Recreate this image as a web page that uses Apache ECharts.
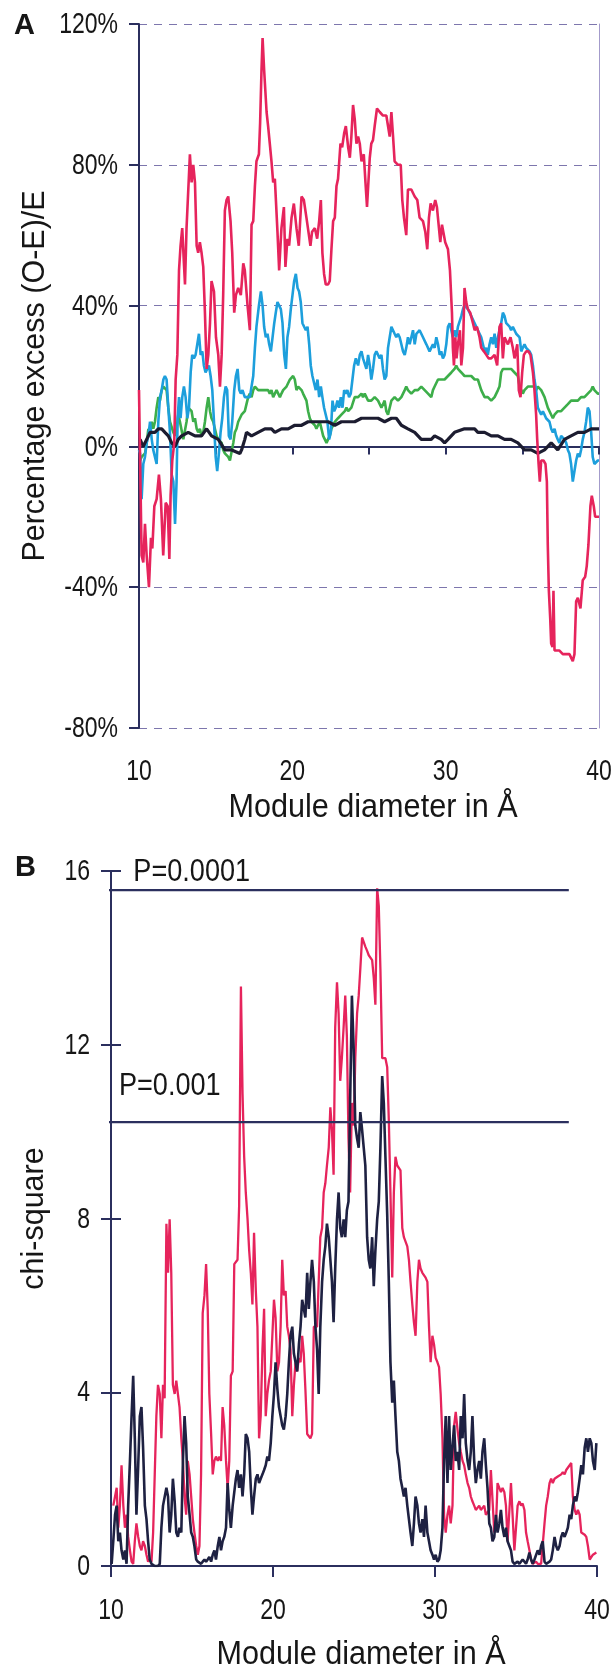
<!DOCTYPE html>
<html>
<head>
<meta charset="utf-8">
<script src="https://cdn.jsdelivr.net/npm/echarts@6/dist/echarts.min.js"></script>
<style>
html,body{margin:0;padding:0;background:#fff;}
#c{width:613px;height:1669px;}
</style>
</head>
<body>
<div id="c"></div>
<script>
// ---------- Panel A : percentage excess (O-E)/E, values in % ----------
const xTicksA = [10, 20, 30, 40];
const yTicksA = [-80, -40, 0, 40, 80, 120];
const redA = [[10.00,16],[10.17,-31],[10.28,-33],[10.39,-22],[10.50,-31],[10.65,-40],[10.78,-26],[10.87,-29],[11.00,-17],[11.15,-15],[11.30,-8],[11.43,-15],[11.58,-31],[11.74,-16],[11.87,-17],[11.98,-32],[12.06,-14],[12.17,-4],[12.30,1],[12.39,19],[12.50,26],[12.61,50],[12.71,57],[12.82,62],[12.93,52],[13.00,46],[13.10,62],[13.21,62],[13.32,83],[13.43,75],[13.54,80],[13.65,75],[13.76,57],[13.86,55],[13.97,58],[14.08,55],[14.19,51],[14.30,38],[14.41,22],[14.52,26],[14.63,35],[14.73,47],[14.89,44],[15.02,31],[15.17,26],[15.28,17],[15.39,26],[15.49,43],[15.60,67],[15.71,70],[15.82,71],[15.97,64],[16.08,55],[16.21,38],[16.32,43],[16.47,45],[16.64,43],[16.80,52],[16.90,50],[17.08,40],[17.23,33],[17.34,63],[17.45,64],[17.56,74],[17.66,81],[17.82,83],[17.90,92],[17.99,107],[18.06,116],[18.16,107],[18.32,95],[18.42,91],[18.53,86],[18.64,81],[18.75,75],[18.86,76],[19.03,61],[19.14,50],[19.29,62],[19.45,68],[19.55,51],[19.68,59],[19.79,57],[19.95,65],[20.10,69],[20.27,62],[20.42,57],[20.60,71],[20.75,70],[20.92,65],[21.03,65],[21.18,57],[21.29,61],[21.47,62],[21.62,59],[21.75,64],[21.86,70],[21.96,55],[22.07,49],[22.18,46],[22.33,46],[22.44,47],[22.55,56],[22.66,64],[22.77,65],[22.88,74],[22.98,76],[23.14,86],[23.25,85],[23.38,89],[23.49,91],[23.64,85],[23.75,82],[23.85,88],[23.96,97],[24.07,93],[24.18,86],[24.29,88],[24.40,86],[24.51,81],[24.66,83],[24.77,75],[24.87,68],[25.05,82],[25.15,86],[25.26,87],[25.37,91],[25.52,96],[25.70,95],[25.91,94],[26.13,94],[26.24,91],[26.35,88],[26.46,95],[26.57,88],[26.67,81],[26.89,80],[27.07,80],[27.17,70],[27.28,65],[27.43,60],[27.54,73],[27.76,73],[27.98,71],[28.15,70],[28.30,65],[28.52,64],[28.67,61],[28.80,56],[28.91,65],[29.02,69],[29.17,67],[29.32,70],[29.43,68],[29.54,63],[29.65,58],[29.76,63],[29.87,63],[29.97,58],[30.15,56],[30.28,50],[30.41,38],[30.47,28],[30.54,23],[30.63,31],[30.71,25],[30.80,29],[30.93,33],[31.02,23],[31.13,28],[31.23,45],[31.34,41],[31.45,39],[31.60,38],[31.78,35],[31.89,33],[32.04,34],[32.21,31],[32.32,28],[32.49,27],[32.65,26],[32.80,25],[32.97,25],[33.19,26],[33.36,23],[33.51,34],[33.62,35],[33.73,25],[33.84,31],[33.95,31],[34.06,29],[34.23,31],[34.38,28],[34.49,25],[34.67,29],[34.77,16],[34.88,14],[34.99,21],[35.10,26],[35.25,27],[35.40,27],[35.53,26],[35.69,21],[35.79,16],[35.90,9],[35.97,2],[36.06,-5],[36.14,-10],[36.23,-4],[36.38,-4],[36.51,-5],[36.60,-10],[36.66,-28],[36.73,-41],[36.82,-49],[36.88,-56],[36.97,-57],[37.03,-41],[37.10,-58],[37.21,-58],[37.42,-58],[37.64,-59],[37.86,-59],[38.07,-59],[38.29,-61],[38.40,-59],[38.51,-44],[38.62,-43],[38.79,-46],[38.94,-38],[39.10,-37],[39.20,-34],[39.31,-28],[39.44,-17],[39.53,-14],[39.66,-17],[39.75,-20],[39.92,-20],[40,-20]];
const blueA = [[10.00,-1],[10.07,-2],[10.17,-15],[10.28,-5],[10.39,-3],[10.50,1],[10.61,3],[10.72,7],[10.83,2],[10.93,-1],[11.04,-3],[11.15,-5],[11.26,7],[11.37,14],[11.48,16],[11.59,19],[11.69,20],[11.80,19],[11.91,11],[12.02,4],[12.13,-8],[12.24,-10],[12.35,-22],[12.45,-10],[12.52,8],[12.61,14],[12.71,8],[12.82,14],[12.93,17],[13.04,14],[13.15,8],[13.26,11],[13.37,21],[13.47,26],[13.58,25],[13.69,26],[13.80,26],[13.91,32],[14.02,26],[14.13,27],[14.23,23],[14.34,21],[14.45,22],[14.56,23],[14.67,20],[14.78,16],[14.89,7],[15.00,-3],[15.10,-7],[15.21,-2],[15.32,4],[15.43,8],[15.54,14],[15.65,17],[15.75,16],[15.86,3],[15.97,2],[16.08,7],[16.21,16],[16.32,20],[16.43,22],[16.54,16],[16.64,15],[16.75,16],[16.90,14],[17.08,14],[17.23,14],[17.34,17],[17.45,20],[17.56,28],[17.66,34],[17.82,40],[17.95,44],[18.06,40],[18.16,34],[18.27,31],[18.38,32],[18.49,29],[18.60,27],[18.71,31],[18.82,35],[18.92,38],[19.03,41],[19.14,41],[19.25,39],[19.36,35],[19.47,26],[19.58,22],[19.68,31],[19.79,34],[19.90,39],[20.01,43],[20.12,47],[20.23,49],[20.34,45],[20.44,44],[20.55,41],[20.66,35],[20.77,35],[20.88,33],[20.99,34],[21.10,29],[21.20,23],[21.31,20],[21.42,20],[21.53,16],[21.64,19],[21.75,14],[21.86,17],[21.96,14],[22.07,11],[22.18,9],[22.29,7],[22.40,2],[22.51,4],[22.62,13],[22.73,10],[22.83,11],[22.94,13],[23.05,11],[23.16,14],[23.27,11],[23.38,16],[23.49,15],[23.59,16],[23.70,14],[23.81,15],[23.92,19],[24.03,23],[24.14,25],[24.29,23],[24.40,26],[24.51,27],[24.61,25],[24.72,25],[24.83,22],[24.94,26],[25.05,23],[25.15,19],[25.26,22],[25.37,26],[25.48,27],[25.59,26],[25.70,25],[25.81,26],[25.91,22],[26.02,19],[26.13,20],[26.24,28],[26.35,31],[26.46,34],[26.57,34],[26.67,32],[26.78,31],[26.89,32],[27.00,31],[27.11,29],[27.22,27],[27.33,26],[27.43,28],[27.54,31],[27.65,29],[27.76,31],[27.87,33],[27.98,29],[28.09,32],[28.19,32],[28.30,33],[28.41,33],[28.52,31],[28.63,31],[28.74,29],[28.85,29],[28.95,27],[29.06,28],[29.17,29],[29.28,28],[29.39,31],[29.50,29],[29.61,26],[29.71,27],[29.82,25],[29.93,26],[30.04,29],[30.15,34],[30.26,35],[30.37,33],[30.47,31],[30.58,33],[30.69,31],[30.80,34],[30.91,34],[31.02,37],[31.13,39],[31.23,40],[31.34,40],[31.45,39],[31.67,37],[31.89,35],[32.10,33],[32.32,31],[32.54,27],[32.65,28],[32.75,26],[32.86,29],[32.97,31],[33.08,29],[33.19,32],[33.30,28],[33.41,31],[33.51,33],[33.62,35],[33.73,38],[33.84,37],[33.95,35],[34.06,35],[34.17,34],[34.27,33],[34.38,34],[34.49,33],[34.60,32],[34.71,32],[34.82,31],[34.93,27],[35.03,28],[35.14,29],[35.25,28],[35.36,28],[35.47,27],[35.58,26],[35.69,23],[35.79,19],[35.90,16],[36.01,11],[36.12,10],[36.23,9],[36.34,10],[36.45,9],[36.55,8],[36.66,8],[36.77,7],[36.88,5],[36.99,4],[37.10,5],[37.21,3],[37.31,2],[37.42,1],[37.53,3],[37.64,3],[37.75,2],[37.86,1],[37.97,-1],[38.07,-2],[38.18,-5],[38.29,-10],[38.40,-7],[38.51,-4],[38.62,-2],[38.73,-3],[38.83,-1],[38.94,2],[39.05,4],[39.16,7],[39.27,11],[39.38,10],[39.49,4],[39.59,-3],[39.70,-5],[39.81,-5],[39.92,-4],[40,-4]];
const greenA = [[10.07,-4],[10.17,-3],[10.39,-2],[10.50,1],[10.61,5],[10.72,3],[10.83,7],[10.93,5],[11.04,7],[11.15,11],[11.26,14],[11.37,13],[11.48,16],[11.59,17],[11.69,17],[11.80,16],[11.91,11],[12.02,7],[12.13,7],[12.24,4],[12.35,3],[12.45,5],[12.56,9],[12.67,7],[12.78,7],[12.89,2],[13.00,2],[13.10,7],[13.21,11],[13.32,11],[13.43,10],[13.54,7],[13.65,8],[13.76,5],[13.86,4],[13.97,5],[14.08,3],[14.19,4],[14.30,7],[14.41,11],[14.52,14],[14.63,10],[14.73,8],[14.84,7],[14.95,5],[15.06,3],[15.17,2],[15.28,2],[15.39,1],[15.49,-1],[15.60,-2],[15.71,-2],[15.82,-3],[15.93,-4],[16.04,-4],[16.15,1],[16.25,4],[16.36,5],[16.47,7],[16.58,7],[16.69,9],[16.80,9],[16.90,10],[17.01,12],[17.12,14],[17.23,15],[17.34,14],[17.45,16],[17.56,17],[17.77,16],[17.99,16],[18.21,16],[18.42,16],[18.53,15],[18.64,16],[18.75,14],[18.86,15],[18.97,16],[19.08,15],[19.19,14],[19.29,15],[19.40,16],[19.62,17],[19.84,19],[20.05,20],[20.16,19],[20.27,16],[20.38,17],[20.60,16],[20.70,15],[20.81,14],[20.92,13],[21.03,10],[21.14,8],[21.25,7],[21.47,6],[21.57,5],[21.79,7],[21.90,5],[22.01,3],[22.12,2],[22.23,1],[22.33,2],[22.44,3],[22.55,5],[22.77,7],[22.98,8],[23.20,9],[23.42,10],[23.53,11],[23.64,10],[23.85,11],[24.07,14],[24.29,14],[24.51,15],[24.61,14],[24.72,15],[24.94,13],[25.15,13],[25.37,14],[25.59,13],[25.81,11],[26.02,13],[26.13,10],[26.24,9],[26.35,11],[26.46,13],[26.67,14],[26.89,13],[27.11,14],[27.33,16],[27.43,17],[27.54,16],[27.76,15],[27.98,16],[28.19,16],[28.41,17],[28.63,16],[28.85,15],[29.06,14],[29.17,16],[29.28,17],[29.50,19],[29.71,19],[29.93,19],[30.15,20],[30.37,21],[30.58,22],[30.69,23],[30.80,22],[31.02,21],[31.23,20],[31.45,20],[31.67,20],[31.89,19],[32.10,19],[32.32,16],[32.54,14],[32.75,14],[32.97,13],[33.19,14],[33.41,16],[33.51,17],[33.62,21],[33.73,22],[33.84,22],[34.06,22],[34.27,22],[34.49,21],[34.71,20],[34.82,17],[34.93,16],[35.03,15],[35.14,16],[35.36,17],[35.58,17],[35.79,17],[35.90,16],[36.01,17],[36.23,16],[36.45,14],[36.66,11],[36.88,9],[36.99,8],[37.10,9],[37.31,10],[37.53,10],[37.75,11],[37.97,12],[38.18,13],[38.40,13],[38.62,13],[38.83,14],[39.05,14],[39.27,15],[39.49,16],[39.59,17],[39.70,16],[39.92,15],[40,15]];
const blackA = [[10.07,2],[10.17,1],[10.28,0],[10.39,1],[10.50,2],[10.72,4],[11.04,4],[11.26,5],[11.48,5],[11.69,4],[11.91,3],[12.13,1],[12.35,0],[12.56,2],[12.78,3],[13.21,4],[13.65,3],[14.08,3],[14.41,5],[14.73,3],[15.17,2],[15.60,-1],[16.04,-1],[16.58,-2],[16.69,-1],[16.90,2],[17.01,4],[17.34,3],[17.77,4],[18.21,5],[18.64,5],[18.86,4],[19.29,5],[19.73,5],[20.16,6],[20.60,6],[21.03,7],[21.47,7],[21.90,7],[22.33,7],[22.77,6],[23.20,7],[23.64,7],[24.07,7],[24.51,8],[24.94,8],[25.15,8],[25.59,8],[26.02,7],[26.46,8],[26.78,8],[27.11,6],[27.54,5],[27.98,4],[28.41,2],[28.63,2],[29.06,2],[29.28,3],[29.71,2],[29.93,1],[30.15,2],[30.58,4],[31.23,5],[31.89,5],[32.10,4],[32.54,4],[32.97,3],[33.41,3],[33.84,2],[34.27,2],[34.71,1],[35.14,-1],[35.58,-1],[36.01,-2],[36.45,-1],[36.88,1],[37.31,-1],[37.75,2],[38.18,3],[38.62,4],[39.05,4],[39.49,5],[39.92,5],[40,5]];

// ---------- Panel B : chi-square ----------
const xTicksB = [10, 20, 30, 40];
const yTicksB = [0, 4, 8, 12, 16];
const redB = [[10.14,1.39],[10.25,1.60],[10.35,1.80],[10.45,0.88],[10.55,1.39],[10.65,2.32],[10.76,1.39],[10.86,0.88],[10.96,1.18],[11.06,0.67],[11.17,0.36],[11.27,0.10],[11.37,0.05],[11.47,0.57],[11.57,0.98],[11.68,0.67],[11.78,0.46],[11.88,0.36],[11.98,0.57],[12.09,0.46],[12.19,0.26],[12.29,0.10],[12.39,0.15],[12.50,0.10],[12.60,0.77],[12.70,2.11],[12.80,3.45],[12.90,4.17],[13.01,3.96],[13.11,2.94],[13.21,4.17],[13.31,3.86],[13.42,7.88],[13.52,6.75],[13.62,7.98],[13.72,6.75],[13.82,4.17],[13.93,3.96],[14.03,4.27],[14.13,3.96],[14.23,3.66],[14.34,2.94],[14.44,2.42],[14.54,1.60],[14.64,1.18],[14.74,2.42],[14.85,2.11],[14.95,1.60],[15.05,1.08],[15.15,0.77],[15.26,0.46],[15.36,0.26],[15.46,0.46],[15.56,2.11],[15.66,5.82],[15.77,6.23],[15.87,6.95],[15.97,5.92],[16.07,3.96],[16.18,3.04],[16.28,2.11],[16.38,2.42],[16.48,2.52],[16.59,2.42],[16.69,2.52],[16.79,2.42],[16.89,3.66],[16.99,3.24],[17.10,2.42],[17.20,1.80],[17.30,2.42],[17.40,4.38],[17.51,4.48],[17.61,6.95],[17.71,6.95],[17.81,7.05],[17.91,8.29],[18.02,13.34],[18.12,10.87],[18.22,9.42],[18.32,8.60],[18.43,7.98],[18.53,7.26],[18.63,6.75],[18.73,6.02],[18.83,7.67],[18.94,6.33],[19.04,5.51],[19.14,2.94],[19.24,3.45],[19.35,4.99],[19.45,5.92],[19.55,3.45],[19.65,3.96],[19.75,4.27],[19.86,4.48],[19.96,4.48],[20.06,6.13],[20.16,5.72],[20.27,4.48],[20.37,4.69],[20.47,5.51],[20.57,7.05],[20.67,6.23],[20.78,6.33],[20.88,5.51],[20.98,5.30],[21.08,4.99],[21.19,3.45],[21.29,4.17],[21.39,4.69],[21.49,4.48],[21.60,4.79],[21.70,4.69],[21.80,5.30],[21.90,4.89],[22.00,4.07],[22.11,3.04],[22.21,3.04],[22.31,2.94],[22.41,3.04],[22.52,5.51],[22.62,5.51],[22.72,5.51],[22.82,6.54],[22.92,7.57],[23.03,7.78],[23.13,8.60],[23.23,8.81],[23.33,9.22],[23.44,9.63],[23.54,10.56],[23.64,10.04],[23.74,9.01],[23.84,12.41],[23.95,13.44],[24.05,12.72],[24.15,11.17],[24.25,11.69],[24.36,12.41],[24.46,13.13],[24.56,12.20],[24.66,9.84],[24.76,8.60],[24.87,10.66],[24.98,10.14],[25.08,11.69],[25.19,12.72],[25.29,13.13],[25.39,13.75],[25.50,14.47],[25.60,14.47],[25.70,14.26],[25.81,14.16],[25.91,14.06],[26.01,14.06],[26.12,13.95],[26.22,13.54],[26.32,12.92],[26.43,15.60],[26.53,15.19],[26.63,13.75],[26.74,11.69],[26.84,11.69],[26.94,11.69],[27.05,11.48],[27.15,10.25],[27.25,8.60],[27.36,6.64],[27.46,8.60],[27.56,9.42],[27.67,9.22],[27.77,9.22],[27.87,9.11],[27.98,7.78],[28.08,7.57],[28.18,7.57],[28.29,7.36],[28.39,7.05],[28.49,6.54],[28.60,6.02],[28.70,5.61],[28.80,5.30],[28.91,6.54],[29.01,7.05],[29.11,6.85],[29.22,6.75],[29.32,6.75],[29.42,6.64],[29.53,6.54],[29.63,5.51],[29.73,4.69],[29.84,5.30],[29.94,5.10],[30.04,4.79],[30.15,4.69],[30.25,4.58],[30.35,3.96],[30.46,2.94],[30.56,1.18],[30.66,0.77],[30.77,1.18],[30.87,1.39],[30.97,0.98],[31.08,1.39],[31.18,3.24],[31.28,3.55],[31.39,3.14],[31.49,2.83],[31.59,2.63],[31.70,2.42],[31.80,2.32],[31.90,2.11],[32.01,1.91],[32.11,1.80],[32.21,1.60],[32.31,1.49],[32.42,1.39],[32.52,1.29],[32.62,1.29],[32.73,1.39],[32.83,1.29],[32.93,1.29],[33.04,1.39],[33.14,1.18],[33.24,1.18],[33.35,1.29],[33.45,2.21],[33.55,2.21],[33.66,0.77],[33.76,0.88],[33.86,1.91],[33.97,1.80],[34.07,1.70],[34.17,1.80],[34.28,1.70],[34.38,1.39],[34.48,0.57],[34.59,0.57],[34.69,1.91],[34.79,1.91],[34.90,0.36],[35.00,0.36],[35.10,1.39],[35.21,1.49],[35.31,1.39],[35.41,1.44],[35.52,1.29],[35.62,0.77],[35.72,0.57],[35.83,0.36],[35.93,0.15],[36.03,0.05],[36.14,0.05],[36.24,0.10],[36.34,0.05],[36.45,0.05],[36.55,0.05],[36.65,0.05],[36.76,0.98],[36.86,1.39],[36.96,1.60],[37.07,1.91],[37.17,2.01],[37.27,1.91],[37.38,2.01],[37.48,2.01],[37.58,2.06],[37.69,2.06],[37.79,2.11],[37.89,2.16],[38.00,2.11],[38.10,2.21],[38.20,2.21],[38.31,2.32],[38.41,2.37],[38.51,1.60],[38.62,1.29],[38.72,1.18],[38.82,1.29],[38.93,1.18],[39.03,0.77],[39.13,0.77],[39.24,0.72],[39.34,0.67],[39.44,0.46],[39.55,0.15],[39.65,0.15],[39.75,0.26],[39.86,0.26],[39.96,0.31]];
const blackB = [[10.04,0.05],[10.14,0.57],[10.25,1.18],[10.35,1.39],[10.45,0.57],[10.55,0.77],[10.65,0.36],[10.76,0.15],[10.86,0.36],[10.96,0.05],[11.06,1.39],[11.17,2.42],[11.27,3.45],[11.37,4.38],[11.47,2.94],[11.57,1.18],[11.68,2.32],[11.78,3.45],[11.88,3.66],[11.98,2.73],[12.09,1.39],[12.19,1.08],[12.29,0.57],[12.39,0.15],[12.50,0.05],[12.60,0.05],[12.70,0],[12.80,0],[12.90,0],[13.01,0.05],[13.11,0.88],[13.21,1.39],[13.31,1.39],[13.42,1.80],[13.52,1.60],[13.62,0.77],[13.72,1.18],[13.82,2.01],[13.93,1.49],[14.03,0.77],[14.13,0.67],[14.23,0.88],[14.34,0.77],[14.44,2.42],[14.54,3.45],[14.64,2.83],[14.74,1.60],[14.85,1.18],[14.95,0.77],[15.05,0.67],[15.15,0.46],[15.26,0.15],[15.36,0.10],[15.46,0.10],[15.56,0.05],[15.66,0.10],[15.77,0.15],[15.87,0.10],[15.97,0.15],[16.07,0.21],[16.18,0.10],[16.28,0.26],[16.38,0.36],[16.48,0.15],[16.59,0.46],[16.69,0.67],[16.79,0.36],[16.89,0.57],[16.99,0.67],[17.10,0.88],[17.20,1.91],[17.30,1.29],[17.40,0.88],[17.51,1.39],[17.61,1.70],[17.71,2.01],[17.81,2.21],[17.91,1.80],[18.02,2.11],[18.12,1.60],[18.22,2.11],[18.32,3.04],[18.43,2.94],[18.53,2.63],[18.63,1.80],[18.73,1.18],[18.83,1.60],[18.94,2.01],[19.04,2.11],[19.14,1.91],[19.24,2.01],[19.35,2.11],[19.45,2.21],[19.55,2.32],[19.65,2.52],[19.75,2.42],[19.86,2.83],[19.96,3.45],[20.06,3.96],[20.16,4.69],[20.27,4.07],[20.37,3.66],[20.47,3.45],[20.57,3.24],[20.67,3.14],[20.78,3.45],[20.88,3.96],[20.98,4.69],[21.08,5.30],[21.19,5.51],[21.29,4.89],[21.39,4.69],[21.49,4.48],[21.60,5.10],[21.70,5.51],[21.80,6.13],[21.90,5.92],[22.00,5.72],[22.11,6.75],[22.21,5.92],[22.31,6.54],[22.41,7.05],[22.52,6.54],[22.62,5.51],[22.72,4.99],[22.82,3.96],[22.92,5.51],[23.03,6.54],[23.13,7.05],[23.23,7.36],[23.33,7.88],[23.44,7.57],[23.54,7.57],[23.64,6.54],[23.74,5.61],[23.84,6.85],[23.95,7.98],[24.05,8.60],[24.15,7.78],[24.25,7.57],[24.36,7.98],[24.46,7.57],[24.56,8.19],[24.66,8.39],[24.76,10.66],[24.87,13.13],[24.98,11.90],[25.08,10.14],[25.19,9.84],[25.29,9.63],[25.39,10.45],[25.50,10.04],[25.60,9.63],[25.70,9.22],[25.81,7.57],[25.91,7.05],[26.01,6.85],[26.12,7.57],[26.22,6.44],[26.32,7.26],[26.43,7.98],[26.53,8.39],[26.63,9.63],[26.74,11.28],[26.84,10.66],[26.94,9.42],[27.05,8.08],[27.15,6.54],[27.25,4.69],[27.36,3.76],[27.46,4.27],[27.56,3.45],[27.67,2.63],[27.77,2.42],[27.87,2.01],[27.98,1.80],[28.08,1.60],[28.18,1.80],[28.29,1.39],[28.39,1.08],[28.49,0.77],[28.60,0.46],[28.70,0.98],[28.80,1.60],[28.91,1.39],[29.01,0.98],[29.11,0.77],[29.22,1.08],[29.32,0.67],[29.42,1.39],[29.53,0.77],[29.63,0.57],[29.73,0.36],[29.84,0.26],[29.94,0.15],[30.04,0.26],[30.15,0.10],[30.25,0.15],[30.35,0.36],[30.46,0.88],[30.56,2.42],[30.66,3.45],[30.77,1.91],[30.87,3.45],[30.97,2.21],[31.08,2.21],[31.18,3.24],[31.28,2.42],[31.39,2.63],[31.49,2.21],[31.59,3.45],[31.70,2.94],[31.80,3.96],[31.90,2.83],[32.01,2.42],[32.11,2.21],[32.21,2.63],[32.31,3.45],[32.42,2.42],[32.52,1.91],[32.62,2.21],[32.73,2.42],[32.83,2.01],[32.93,2.63],[33.04,2.94],[33.14,2.32],[33.24,1.80],[33.35,0.98],[33.45,0.88],[33.55,0.57],[33.66,0.67],[33.76,1.18],[33.86,0.77],[33.97,0.98],[34.07,1.29],[34.17,0.88],[34.28,0.67],[34.38,0.88],[34.48,0.57],[34.59,0.46],[34.69,0.36],[34.79,0.10],[34.90,0.05],[35.00,0.05],[35.10,0.10],[35.21,0.05],[35.31,0.05],[35.41,0.15],[35.52,0.10],[35.62,0.05],[35.72,0.15],[35.83,0.31],[35.93,0.15],[36.03,0.05],[36.14,0.15],[36.24,0.15],[36.34,0.36],[36.45,0.26],[36.55,0.46],[36.65,0.57],[36.76,0.10],[36.86,0.05],[36.96,0.05],[37.07,0.10],[37.17,0.15],[37.27,0.36],[37.38,0.67],[37.48,0.46],[37.58,0.36],[37.69,0.46],[37.79,0.67],[37.89,0.77],[38.00,0.67],[38.10,0.77],[38.20,0.88],[38.31,1.18],[38.41,1.08],[38.51,1.39],[38.62,1.60],[38.72,1.49],[38.82,1.70],[38.93,2.01],[39.03,2.32],[39.13,2.11],[39.24,2.73],[39.34,2.94],[39.44,2.63],[39.55,2.94],[39.65,2.83],[39.75,2.42],[39.86,2.21],[39.96,2.83]];
// significance thresholds
const pLevels = [15.56, 10.22];
const pLineStart = 9.8;
const pLineEnd = 38.26;
const pLabels = ['P=0.0001', 'P=0.001'];
const pLabelX = [11.38, 10.49];
const pLabelY = [16.0, 11.07];

const FONT = '"Liberation Sans",Arial,sans-serif';
const NAVY = '#2b2f5e';
const TXT = '#161616';
const GRIDC = '#7d76ad';
const NARROW_TICK = 0.78, NARROW_TITLE = 0.9, NARROW_P = 0.86;

const chart = echarts.init(document.getElementById('c'), null, {renderer: 'canvas'});

function lineSeries(data, color, width, xi, yi) {
  return {type: 'line', xAxisIndex: xi, yAxisIndex: yi, data: data, symbol: 'none', showSymbol: false,
          lineStyle: {color: color, width: width}, silent: true, z: 3};
}

const series = [
  lineSeries(greenA, '#3dae4a', 2.6, 0, 0),
  lineSeries(blueA, '#1d9fdc', 2.6, 0, 0),
  lineSeries(blackA, '#1c1c30', 3.2, 0, 0),
  lineSeries(redA, '#e6245c', 2.6, 0, 0),
  lineSeries(redB, '#e6245c', 2.3, 2, 2),
  lineSeries(blackB, '#1e2142', 2.6, 2, 2)
];
pLevels.forEach(function (lv) {
  series.push({type: 'line', xAxisIndex: 2, yAxisIndex: 2, data: [[pLineStart, lv], [pLineEnd, lv]],
    symbol: 'none', clip: false, silent: true, lineStyle: {color: NAVY, width: 2.2}, z: 4});
});

const option = {
  animation: false,
  backgroundColor: '#fff',
  grid: [
    {left: 139, top: 24, width: 460, height: 704},
    {left: 111, top: 871, width: 486, height: 695}
  ],
  xAxis: [
    {gridIndex: 0, type: 'value', min: 10, max: 40, interval: 5, position: 'bottom',
     axisLine: {onZero: true, lineStyle: {color: NAVY, width: 2}},
     axisTick: {show: true, length: 8, lineStyle: {color: NAVY, width: 2}},
     axisLabel: {show: false}, splitLine: {show: false}},
    {gridIndex: 0, type: 'value', min: xTicksA[0], max: xTicksA[xTicksA.length - 1], interval: 10, position: 'bottom',
     axisLine: {show: false, onZero: false}, axisTick: {show: false},
     axisLabel: {show: false}, splitLine: {show: false}},
    {gridIndex: 1, type: 'value', min: xTicksB[0], max: xTicksB[xTicksB.length - 1], interval: 10, position: 'bottom',
     axisLine: {onZero: false, lineStyle: {color: NAVY, width: 2}},
     axisTick: {show: true, length: 11, lineStyle: {color: NAVY, width: 2}},
     axisLabel: {show: false}, splitLine: {show: false}}
  ],
  yAxis: [
    {gridIndex: 0, type: 'value', min: yTicksA[0], max: yTicksA[yTicksA.length - 1], interval: 40, position: 'left',
     axisLine: {show: true, onZero: false, lineStyle: {color: NAVY, width: 2}},
     axisTick: {show: true, length: 10, lineStyle: {color: NAVY, width: 2}},
     axisLabel: {show: false},
     splitLine: {show: true, lineStyle: {color: GRIDC, width: 1.2, type: [8, 7]}}},
    {gridIndex: 0, type: 'value', min: -80, max: 120, interval: 40, position: 'right',
     axisLine: {show: true, onZero: false, lineStyle: {color: '#a39bcb', width: 1}},
     axisTick: {show: false}, axisLabel: {show: false}, splitLine: {show: false}},
    {gridIndex: 1, type: 'value', min: yTicksB[0], max: yTicksB[yTicksB.length - 1], interval: 4, position: 'left',
     axisLine: {show: true, onZero: false, lineStyle: {color: NAVY, width: 2}},
     axisTick: {show: true, length: 10, lineStyle: {color: NAVY, width: 2}},
     axisLabel: {show: false}, splitLine: {show: false}},
    {gridIndex: 1, type: 'value', min: 0, max: 16, interval: 4, position: 'left',
     axisLine: {show: false, onZero: false},
     axisTick: {show: true, inside: true, length: 10, lineStyle: {color: NAVY, width: 2}},
     axisLabel: {show: false}, splitLine: {show: false}}
  ],
  series: series
};
chart.setOption(option);

// ----- text drawn in a condensed style, placed with the axes' own scales -----
function px(xi, v) { return chart.convertToPixel({xAxisIndex: xi}, v); }
function py(yi, v) { return chart.convertToPixel({yAxisIndex: yi}, v); }
function txt(text, x, y, size, align, sx, rot, weight) {
  return {type: 'text', x: x, y: y, scaleX: sx, rotation: rot || 0, silent: true, z: 10,
    style: {text: text, fontSize: size, fontFamily: FONT, fontWeight: weight || 'normal', fill: TXT,
            align: align, verticalAlign: 'middle', textAlign: align, textVerticalAlign: 'middle'}};
}
const els = [];
// panel A
const axA = px(1, xTicksA[0]);
yTicksA.forEach(function (v) { els.push(txt(v + '%', axA - 21, py(0, v) + 1, 29.5, 'right', NARROW_TICK)); });
const botA = py(0, yTicksA[0]);
xTicksA.forEach(function (v) { els.push(txt(String(v), px(1, v), botA + 44, 29.5, 'center', NARROW_TICK)); });
els.push(txt('Module diameter in Å', px(1, 25) + 4, botA + 80, 34, 'center', NARROW_TITLE));
els.push(txt('Percentage excess (O-E)/E', 36, py(0, 20), 30.5, 'center', 1, Math.PI / 2));
els.push(txt('A', 14, 26, 29, 'left', 1, 0, 'bold'));
// panel B
const axB = px(2, xTicksB[0]);
yTicksB.forEach(function (v) { els.push(txt(String(v), axB - 21, py(2, v) + 1, 29.5, 'right', NARROW_TICK)); });
const botB = py(2, yTicksB[0]);
xTicksB.forEach(function (v) { els.push(txt(String(v), px(2, v), botB + 45, 29.5, 'center', NARROW_TICK)); });
els.push(txt('Module diameter in Å', px(2, 25) + 7, botB + 89, 34, 'center', NARROW_TITLE));
els.push(txt('chi-square', 35, py(2, 8), 30.5, 'center', 1, Math.PI / 2));
els.push(txt('B', 15, 868, 29, 'left', 1, 0, 'bold'));
pLabels.forEach(function (t, i) {
  els.push(txt(t, px(2, pLabelX[i]), py(2, pLabelY[i]) + 1, 31.5, 'left', NARROW_P));
});
chart.setOption({graphic: {elements: els}});
</script>
</body>
</html>
